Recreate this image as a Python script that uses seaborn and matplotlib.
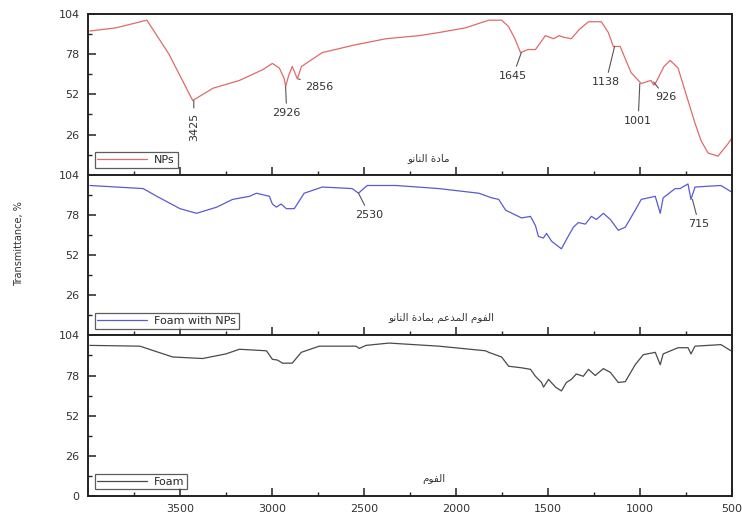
import numpy as np
import pandas as pd
import seaborn as sns
import matplotlib
matplotlib.use('Agg')
import matplotlib.pyplot as plt

# FTIR spectra
nps_wn = [3990, 3850, 3680, 3560, 3431, 3320, 3177, 3122, 3050, 2998, 2960, 2933, 2926, 2910,
          2890, 2862, 2840, 2727, 2550, 2380, 2200, 2093, 1950, 1822, 1752, 1715, 1680, 1649,
          1610, 1568, 1514, 1470, 1440, 1416, 1373, 1330, 1280, 1210, 1172, 1145, 1108, 1048,
          993, 940, 926, 912, 870, 836, 793, 739, 700, 668, 630, 576, 522, 505]
nps_t = [93, 95, 100, 78, 48, 56, 61, 64, 68, 72, 69, 62, 57, 64,
         70, 62, 70, 79, 84, 88, 90, 92, 95, 100, 100, 96, 88, 79,
         81, 81, 90, 88, 90, 89, 88, 94, 99, 99, 92, 83, 83, 66,
         59, 61, 58, 60, 70, 74, 69, 48, 33, 22, 14, 12, 20, 23]

foam_nps_wn = [3990, 3700, 3626, 3500, 3410, 3300, 3214, 3122, 3085, 3014, 2998, 2976, 2950,
               2922, 2879, 2852, 2825, 2727, 2564, 2530, 2483, 2326, 2093, 1876, 1806, 1768,
               1730, 1644, 1595, 1568, 1552, 1525, 1508, 1481, 1427, 1400, 1362, 1335, 1297,
               1264, 1237, 1199, 1161, 1118, 1080, 1026, 993, 955, 917, 890, 874, 809, 782,
               739, 723, 701, 560, 505]
foam_nps_t = [97, 95, 90, 82, 79, 83, 88, 90, 92, 90, 85, 83, 85,
              82, 82, 87, 92, 96, 95, 92, 97, 97, 95, 92, 89, 88,
              81, 76, 77, 71, 64, 63, 66, 61, 56, 62, 70, 73, 72,
              77, 75, 79, 75, 68, 70, 81, 88, 89, 90, 79, 89, 95, 95,
              98, 88, 96, 97, 93]

foam_wn = [3990, 3718, 3540, 3377, 3250, 3177, 3030, 2998, 2970, 2943, 2890, 2841, 2743,
           2543, 2526, 2489, 2364, 2093, 1839, 1822, 1752, 1714, 1644, 1595, 1568, 1535,
           1524, 1497, 1459, 1427, 1400, 1373, 1346, 1308, 1280, 1243, 1199, 1161, 1118,
           1080, 1026, 982, 917, 890, 874, 793, 739, 723, 701, 560, 505]
foam_t = [97.5, 97, 90, 89, 92, 95, 94, 88.5, 88, 86, 86, 93, 97,
          97, 95.5, 97.5, 99, 97, 94, 93, 90, 84, 83, 82, 77.5, 73.5,
          70.5, 75.5, 70.5, 68, 73.5, 75.5, 79, 77.5, 82, 78, 82.5, 80, 73.5,
          74, 85, 91.5, 93, 85, 92, 96, 96, 92, 97, 98, 94]

labels = ['NPs', 'Foam with NPs', 'Foam']
arabic_titles = ['مادة النانو', 'الفوم المدعم بمادة النانو', 'الفوم']
colors = ['#e06a6a', '#5a5ad2', '#4a4a4a']

# peak labels per panel: (wavenumber, transmittance at peak, text wn, text T, rotation)
peaks = [
    [(3425, 48, 3425, 31, 90), (2926, 57, 2920, 40, 0), (2856, 62, 2745, 57, 0),
     (1645, 79, 1690, 64, 0), (1138, 83, 1185, 60, 0), (1001, 59, 1010, 35, 0),
     (926, 60, 860, 50, 0)],
    [(2530, 92, 2470, 78, 0), (715, 88, 680, 72, 0)],
    [],
]

# simple arabic shaping (presentation forms B) since matplotlib has no shaping
FORMS = {
    'ا': (0xFE8D, 0xFE8E, None, None), 'ب': (0xFE8F, 0xFE90, 0xFE91, 0xFE92),
    'ة': (0xFE93, 0xFE94, None, None), 'د': (0xFEA9, 0xFEAA, None, None),
    'ع': (0xFEC9, 0xFECA, 0xFECB, 0xFECC), 'ف': (0xFED1, 0xFED2, 0xFED3, 0xFED4),
    'ل': (0xFEDD, 0xFEDE, 0xFEDF, 0xFEE0), 'م': (0xFEE1, 0xFEE2, 0xFEE3, 0xFEE4),
    'ن': (0xFEE5, 0xFEE6, 0xFEE7, 0xFEE8), 'و': (0xFEED, 0xFEEE, None, None),
}


def shape(text):
    out = []
    for i, ch in enumerate(text):
        if ch not in FORMS:
            out.append(ch)
            continue
        prev = text[i - 1] if i > 0 else ' '
        nxt = text[i + 1] if i < len(text) - 1 else ' '
        jp = prev in FORMS and FORMS[prev][2] is not None
        jn = FORMS[ch][2] is not None and nxt in FORMS
        iso, fin, ini, med = FORMS[ch]
        if jp and jn:
            code = med
        elif jn:
            code = ini
        elif jp:
            code = fin
        else:
            code = iso
        out.append(chr(code))
    return ''.join(out)[::-1]


sns.set_theme(style='ticks')
plt.rcParams['font.family'] = ['DejaVu Sans']

fig, axes = plt.subplots(3, 1, figsize=(7.42, 5.13), dpi=100, sharex=True,
                         gridspec_kw={'hspace': 0})
fig.subplots_adjust(left=0.1186, right=0.9865, top=0.9727, bottom=0.0331)

series = [(nps_wn, nps_t), (foam_nps_wn, foam_nps_t), (foam_wn, foam_t)]
text_x = [2150, 2080, 2120]

for k, ax in enumerate(axes):
    wn, t = series[k]
    df = pd.DataFrame({'wn': wn, 'T': t})
    sns.lineplot(data=df, x='wn', y='T', ax=ax, color=colors[k], lw=0.9,
                 label=labels[k], sort=False)
    ax.set_xlim(4000, 500)
    ax.set_ylim(0, 104)
    ax.set_yticks([0, 26, 52, 78, 104])
    if k < 2:
        # the zero label would sit on top of the next panel's 104
        ax.set_yticklabels(['', '26', '52', '78', '104'])
    ax.set_yticks([13, 39, 65, 91], minor=True)
    ax.set_xticks([3500, 3000, 2500, 2000, 1500, 1000, 500])
    ax.set_xticks([3750, 3250, 2750, 2250, 1750, 1250, 750], minor=True)
    ax.tick_params(which='major', direction='in', length=6, width=1.2,
                   labelsize=8, colors='#333333', pad=6)
    ax.tick_params(which='minor', direction='in', length=3, width=1.0)
    for sp in ax.spines.values():
        sp.set_linewidth(1.4)
        sp.set_color('#222222')
    ax.set_xlabel('')
    ax.set_ylabel('')
    leg = ax.legend(loc='lower left', fontsize=8, handlelength=4.5, frameon=True,
                    fancybox=False, borderaxespad=0.6, borderpad=0.25,
                    handletextpad=0.6)
    leg.get_frame().set_edgecolor('#333333')
    leg.get_frame().set_linewidth(0.9)
    ax.text(text_x[k], 11, shape(arabic_titles[k]), fontsize=7.5, color='#333333',
            ha='center', va='center', family=['DejaVu Sans'])
    for (px, py, tx, ty, rot) in peaks[k]:
        ax.annotate(str(px), xy=(px, py), xytext=(tx, ty), fontsize=8,
                    color='#333333', ha='center', va='center', rotation=rot,
                    arrowprops=dict(arrowstyle='-', color='#555555', lw=0.8,
                                    shrinkA=1, shrinkB=0))

fig.text(0.025, 0.525, 'Transmittance, %', rotation=90, ha='center', va='center',
         fontsize=7, color='#333333', family=['Liberation Sans Narrow', 'DejaVu Sans'])

fig.savefig('out.png', dpi=100)
